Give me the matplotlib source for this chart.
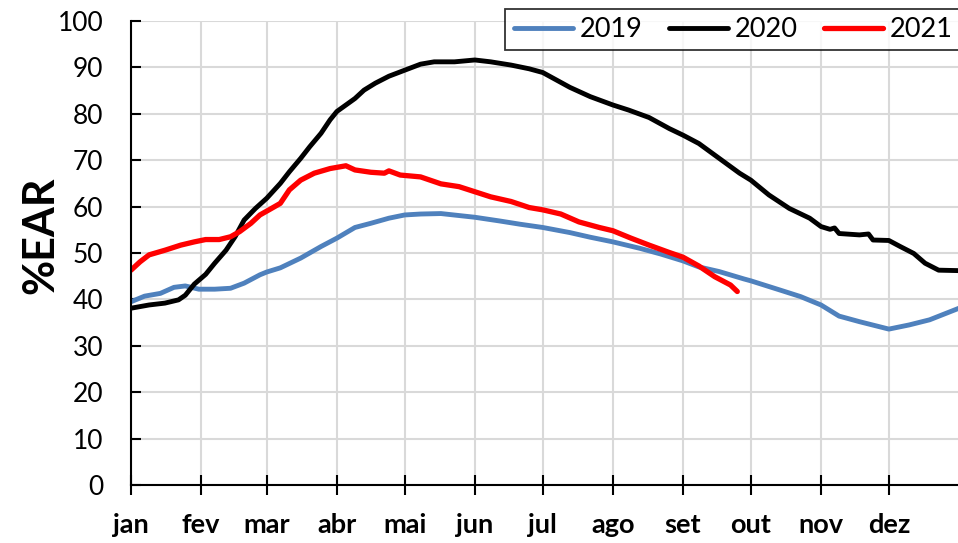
import numpy as np
import matplotlib.pyplot as plt

# day of year (leap-year axis) and %EAR
days_2019 = [0, 6, 13, 19, 24, 30, 37, 44, 50, 57, 60, 66, 75, 84, 91, 99, 106, 114, 121,
             128, 137, 152, 163, 172, 182, 194, 203, 213, 225, 234, 244, 251, 260, 271,
             274, 287, 296, 305, 313, 322, 335, 344, 353, 366]
ear_2019 = [39.5, 40.7, 41.3, 42.6, 42.9, 42.2, 42.2, 42.4, 43.5, 45.3, 45.9, 46.8, 48.9,
            51.4, 53.2, 55.5, 56.4, 57.5, 58.2, 58.4, 58.5, 57.7, 56.9, 56.2, 55.5, 54.4,
            53.4, 52.4, 51.0, 49.8, 48.3, 47.0, 46.0, 44.4, 44.0, 42.0, 40.6, 38.8, 36.4,
            35.2, 33.6, 34.5, 35.6, 38.1]

days_2020 = [0, 8, 15, 21, 24, 28, 33, 37, 42, 46, 50, 55, 60, 66, 70, 75, 79, 84, 88, 91,
             95, 99, 103, 108, 114, 121, 128, 134, 143, 152, 159, 168, 176, 182, 194, 203,
             213, 220, 229, 238, 244, 251, 260, 269, 274, 282, 291, 300, 305, 309, 311,
             313, 322, 326, 328, 335, 340, 346, 351, 357, 366]
ear_2020 = [38.1, 38.8, 39.2, 39.9, 40.9, 43.3, 45.4, 47.8, 50.6, 53.5, 57.1, 59.6, 61.8,
            65.0, 67.5, 70.4, 72.9, 75.8, 78.7, 80.5, 81.9, 83.3, 85.1, 86.6, 88.1, 89.4,
            90.7, 91.2, 91.2, 91.6, 91.2, 90.5, 89.7, 88.9, 85.7, 83.7, 81.9, 80.8, 79.2,
            76.8, 75.4, 73.6, 70.4, 67.2, 65.7, 62.5, 59.6, 57.5, 55.7, 55.1, 55.4, 54.2,
            53.9, 54.1, 52.8, 52.7, 51.4, 49.9, 47.8, 46.3, 46.2]

days_2021 = [0, 4, 8, 15, 22, 28, 33, 39, 44, 48, 53, 57, 61, 66, 70, 75, 81, 88, 95, 99,
             106, 112, 114, 119, 128, 137, 145, 152, 159, 168, 176, 182, 190, 198, 207,
             213, 221, 229, 238, 244, 251, 258, 265, 268]
ear_2021 = [46.3, 48.1, 49.6, 50.6, 51.7, 52.4, 52.9, 52.9, 53.5, 54.6, 56.4, 58.2, 59.3,
            60.7, 63.6, 65.7, 67.2, 68.2, 68.8, 67.9, 67.4, 67.2, 67.7, 66.8, 66.4, 64.9,
            64.3, 63.2, 62.1, 61.1, 59.8, 59.3, 58.4, 56.7, 55.5, 54.8, 53.2, 51.7, 50.1,
            49.1, 47.2, 44.9, 43.1, 41.7]

month_labels = ["jan", "fev", "mar", "abr", "mai", "jun", "jul", "ago", "set", "out", "nov", "dez"]
month_starts = [0, 31, 60, 91, 121, 152, 182, 213, 244, 274, 305, 335]

plt.rcParams["font.family"] = ["Lato", "DejaVu Sans"]

fig = plt.figure(figsize=(9.58, 5.43), dpi=100)
ax = fig.add_axes([131 / 958, 1 - 485 / 543, 828 / 958, 464 / 543])

ax.plot(days_2019, ear_2019, color="#4F81BD", lw=3.5, label="2019", solid_capstyle="round")
ax.plot(days_2020, ear_2020, color="black", lw=3.5, label="2020", solid_capstyle="round")
ax.plot(days_2021, ear_2021, color="#FF0000", lw=3.8, label="2021", solid_capstyle="round")

ax.set_xlim(0, 366)
ax.set_ylim(0, 100)
ax.set_yticks(np.arange(0, 101, 10))
ax.set_xticks(month_starts)
ax.set_xticklabels(month_labels, fontweight="bold", fontsize=19.5)

ax.grid(True, color="#D9D9D9", lw=1.5)
ax.set_axisbelow(True)
for s in ["top", "right"]:
    ax.spines[s].set_visible(False)
for s in ["left", "bottom"]:
    ax.spines[s].set_linewidth(1.5)
    ax.spines[s].set_zorder(3)

ax.tick_params(axis="y", direction="in", length=7, width=1.5, labelsize=19, pad=20)
ax.tick_params(axis="x", direction="inout", length=14, width=1.5, pad=13)

fig.text(40 / 958, 1 - 235 / 543, "%EAR", rotation=90, fontsize=31, fontweight="bold",
         ha="center", va="center")

leg = ax.legend(loc="upper right", bbox_to_anchor=(961 / 958, 1 - 9 / 543),
                bbox_transform=fig.transFigure,
                ncol=3, fontsize=19.5, frameon=True, fancybox=False, handlelength=2.2,
                handletextpad=0.25, columnspacing=0.95, borderpad=0.3, borderaxespad=0)
leg.get_frame().set_edgecolor("black")
leg.get_frame().set_linewidth(1.3)

fig.savefig("out.png", dpi=100)
